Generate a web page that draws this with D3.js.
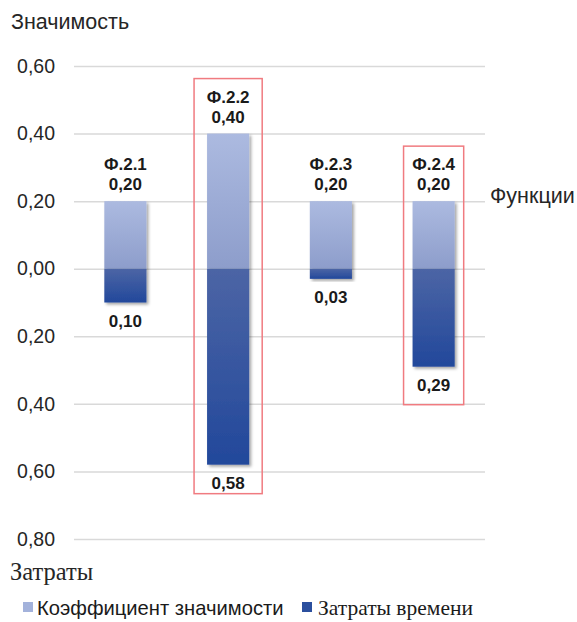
<!DOCTYPE html>
<html>
<head>
<meta charset="utf-8">
<script src="https://cdn.jsdelivr.net/npm/d3@7"></script>
<style>
  html, body { margin: 0; padding: 0; background: #fff; }
  svg { display: block; }
</style>
</head>
<body>
<script>
// Functions and their two measures
const functions = ["Ф.2.1", "Ф.2.2", "Ф.2.3", "Ф.2.4"];
const significance = [0.20, 0.40, 0.20, 0.20];   // Коэффициент значимости (up)
const timeCosts = [0.10, 0.58, 0.03, 0.29];      // Затраты времени (down)
const tickValues = [0.6, 0.4, 0.2, 0, -0.2, -0.4, -0.6, -0.8];
const highlighted = ["Ф.2.2", "Ф.2.4"];

const W = 577, H = 622;
const sans = "'Liberation Sans', Arial, sans-serif";
const serif = "'Liberation Serif', 'Times New Roman', serif";

const svg = d3.select("body").append("svg")
  .attr("width", W).attr("height", H);

const defs = svg.append("defs");
const gLight = defs.append("linearGradient").attr("id", "gLight")
  .attr("x1", 0).attr("y1", 0).attr("x2", 0).attr("y2", 1);
gLight.append("stop").attr("offset", "0%").attr("stop-color", "#acbae0");
gLight.append("stop").attr("offset", "100%").attr("stop-color", "#8d9dcb");
const gDark = defs.append("linearGradient").attr("id", "gDark")
  .attr("x1", 0).attr("y1", 0).attr("x2", 0).attr("y2", 1);
gDark.append("stop").attr("offset", "0%").attr("stop-color", "#4c65a5");
gDark.append("stop").attr("offset", "100%").attr("stop-color", "#22489b");

const shadow = defs.append("filter").attr("id", "shadow")
  .attr("x", "-30%").attr("y", "-30%").attr("width", "160%").attr("height", "160%");
shadow.append("feDropShadow").attr("dx", 2).attr("dy", 2)
  .attr("stdDeviation", 1.8).attr("flood-color", "#000").attr("flood-opacity", 0.35);

const x = d3.scaleBand().domain(functions)
  .range([74, 485]).paddingInner(0.59).paddingOuter(0.295);
const y = d3.scaleLinear().domain([-0.8, 0.6]).range([539, 66]);

const fmt = v => d3.format(".2f")(Math.abs(v)).replace(".", ",");

// Value axis with gridlines
const axis = svg.append("g").attr("transform", "translate(74,0)")
  .call(d3.axisLeft(y).tickValues(tickValues).tickSizeInner(-411)
    .tickSizeOuter(0).tickPadding(19).tickFormat(fmt));
axis.select(".domain").remove();
axis.selectAll(".tick line").attr("stroke", "#d9d9d9").attr("stroke-width", 1.5);
axis.selectAll(".tick text").attr("font-family", sans).attr("font-size", 19.5)
  .attr("fill", "#262626");

// Bars
const bars = svg.append("g");
bars.selectAll("rect.up").data(functions).join("rect").attr("class", "up")
  .attr("x", d => x(d)).attr("width", x.bandwidth())
  .attr("y", (d, i) => y(significance[i]))
  .attr("height", (d, i) => y(0) - y(significance[i]))
  .attr("fill", "url(#gLight)").attr("filter", "url(#shadow)");
bars.selectAll("rect.down").data(functions).join("rect").attr("class", "down")
  .attr("x", d => x(d)).attr("width", x.bandwidth())
  .attr("y", y(0))
  .attr("height", (d, i) => y(-timeCosts[i]) - y(0))
  .attr("fill", "url(#gDark)").attr("filter", "url(#shadow)");

// Labels
const labels = svg.append("g").attr("font-family", sans).attr("font-weight", "bold")
  .attr("font-size", 17).attr("fill", "#1a1a1a").attr("text-anchor", "middle");
labels.selectAll("text.name").data(functions).join("text").attr("class", "name")
  .attr("x", d => x(d) + x.bandwidth() / 2)
  .attr("y", (d, i) => y(significance[i]) - 31).text(d => d);
labels.selectAll("text.sig").data(functions).join("text").attr("class", "sig")
  .attr("x", d => x(d) + x.bandwidth() / 2)
  .attr("y", (d, i) => y(significance[i]) - 11).text((d, i) => fmt(significance[i]));
labels.selectAll("text.cost").data(functions).join("text").attr("class", "cost")
  .attr("x", d => x(d) + x.bandwidth() / 2)
  .attr("y", (d, i) => y(-timeCosts[i]) + 24).text((d, i) => fmt(timeCosts[i]));

// Highlight frames around selected functions
const framePad = { "Ф.2.2": [13, 8], "Ф.2.4": [9, 17] };
const frameTopGap = 55, frameBottomGap = 21;
svg.append("g").selectAll("rect").data(highlighted).join("rect")
  .attr("x", d => x(d) - framePad[d][0])
  .attr("width", d => x.bandwidth() + 2 * framePad[d][0])
  .attr("y", d => y(significance[functions.indexOf(d)]) - frameTopGap)
  .attr("height", d => y(-timeCosts[functions.indexOf(d)]) + frameBottomGap + framePad[d][1]
      - (y(significance[functions.indexOf(d)]) - frameTopGap))
  .attr("fill", "none").attr("stroke", "#f07b80").attr("stroke-width", 1.5);

// Axis titles
svg.append("text").attr("x", 11).attr("y", 29).attr("font-family", sans)
  .attr("font-size", 21.5).attr("fill", "#262626").text("Значимость");
svg.append("text").attr("x", 490).attr("y", 203).attr("font-family", sans)
  .attr("font-size", 21.5).attr("fill", "#262626").text("Функции");
svg.append("text").attr("x", 10).attr("y", 580).attr("font-family", serif)
  .attr("font-size", 24.5).attr("fill", "#262626").text("Затраты");

// Legend
const legend = svg.append("g");
legend.append("rect").attr("x", 23).attr("y", 602).attr("width", 10).attr("height", 10)
  .attr("fill", "#a3b2db");
legend.append("text").attr("x", 37).attr("y", 615).attr("font-family", sans)
  .attr("font-size", 20.2).attr("fill", "#1a1a1a").text("Коэффициент значимости");
legend.append("rect").attr("x", 302).attr("y", 602).attr("width", 10).attr("height", 10)
  .attr("fill", "#2b4f9e");
legend.append("text").attr("x", 318).attr("y", 615).attr("font-family", serif)
  .attr("font-size", 21.5).attr("fill", "#1a1a1a").text("Затраты времени");
</script>
</body>
</html>
